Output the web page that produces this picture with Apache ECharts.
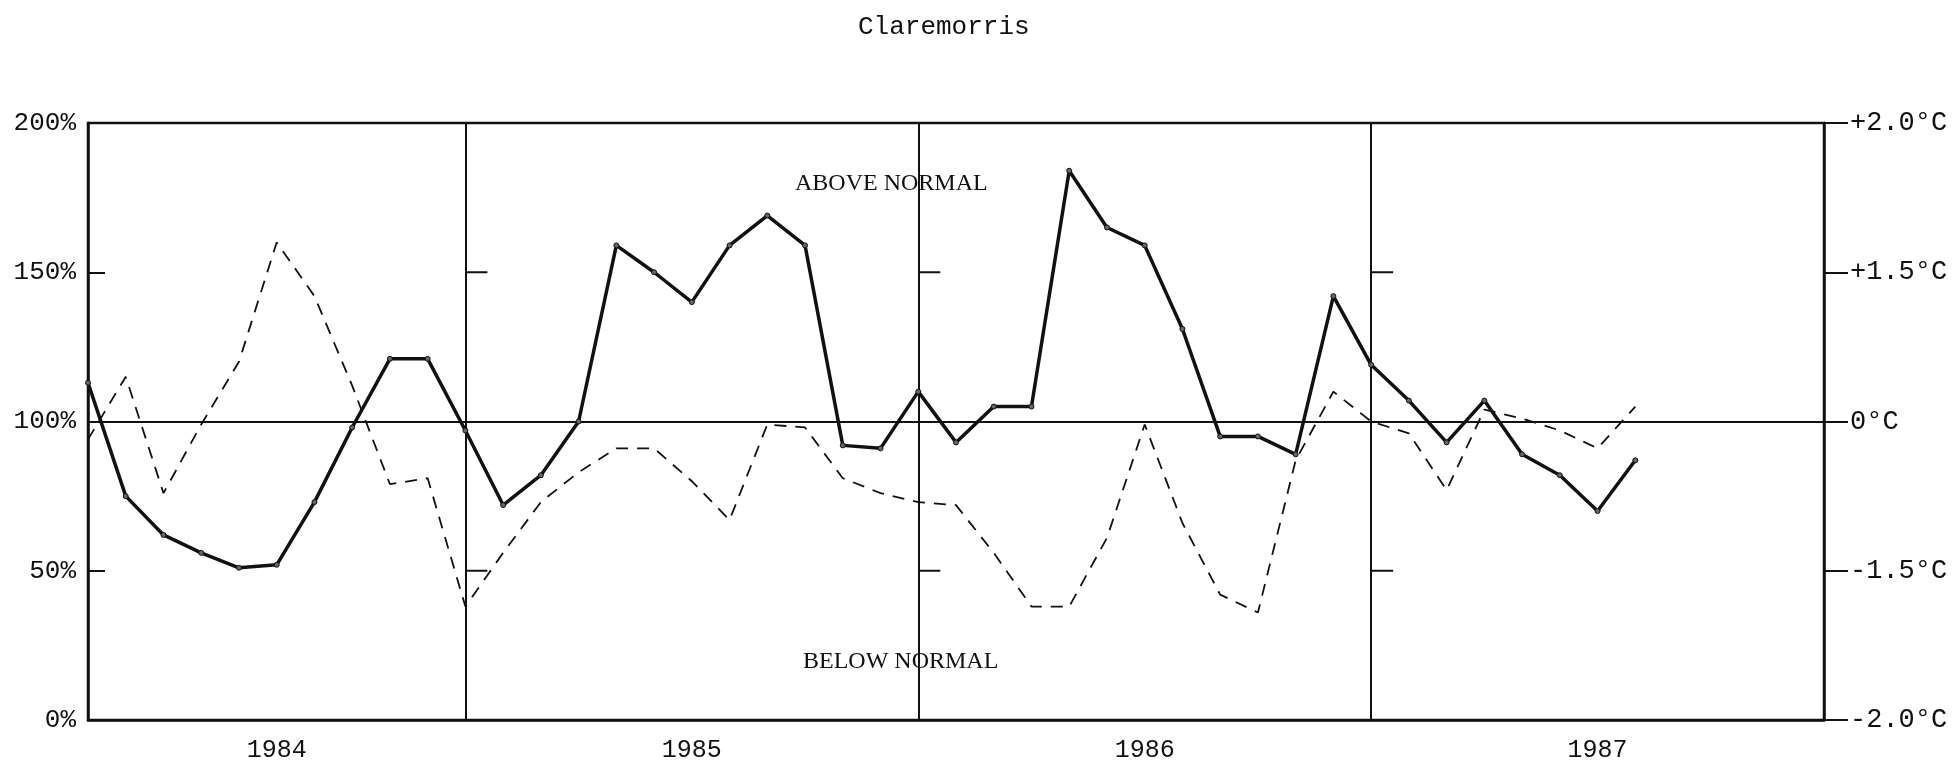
<!DOCTYPE html>
<html>
<head>
<meta charset="utf-8">
<title>Claremorris</title>
<script src="https://cdn.jsdelivr.net/npm/echarts@6.0.0/dist/echarts.min.js"></script>
<style>
  html, body { margin: 0; padding: 0; background: #fff; }
  #chart { width: 1955px; height: 763px; }
</style>
</head>
<body>
<div id="chart"></div>
<script>
// monthly points, March 1984 to January 1988
const months = [
  '1984-03', '1984-04', '1984-05', '1984-06', '1984-07', '1984-08', '1984-09', '1984-10', '1984-11', '1984-12',
  '1985-01', '1985-02', '1985-03', '1985-04', '1985-05', '1985-06', '1985-07', '1985-08', '1985-09', '1985-10', '1985-11', '1985-12',
  '1986-01', '1986-02', '1986-03', '1986-04', '1986-05', '1986-06', '1986-07', '1986-08', '1986-09', '1986-10', '1986-11', '1986-12',
  '1987-01', '1987-02', '1987-03', '1987-04', '1987-05', '1987-06', '1987-07', '1987-08', '1987-09', '1987-10', '1987-11', '1987-12',
  '1988-01'
];
const yearStarts = ['1985-01', '1986-01', '1987-01'];
const yearLabelAt = ['1984-08', '1985-07', '1986-07', '1987-07'];
const yearLabels = ['1984', '1985', '1986', '1987'];

const leftTicks = [0, 50, 100, 150, 200];
const leftLabels = ['0%', '50%', '100%', '150%', '200%'];
const rightLabels = ['-2.0°C', '-1.5°C', '0°C', '+1.5°C', '+2.0°C'];

// rainfall, % of normal (solid line)
const rainfall = [
  113, 75, 62, 56, 51, 52, 73, 98, 121, 121,
  97, 72, 82, 100, 159, 150, 140, 159, 169, 159, 92, 91,
  110, 93, 105, 105, 184, 165, 159, 131, 95, 95, 89, 142,
  119, 107, 93, 107, 89, 82, 70, 87
];
// temperature departure, on the right hand scale (dashed line)
const temperature = [
  94, 115, 76, 99, 120, 160, 142, 112, 79, 81,
  38, 56, 73, 83, 91, 91, 80, 67, 99, 98, 81, 76,
  73, 72, 56, 38, 38, 61, 99, 66, 42, 36, 87, 110,
  100, 96, 77, 104, 101, 97, 91, 105
];

const chart = echarts.init(document.getElementById('chart'));
const ink = '#111';
const mono = '"Liberation Mono", "DejaVu Sans Mono", monospace';

chart.setOption({
  animation: false,
  backgroundColor: '#fff',
  title: {
    text: 'Claremorris',
    left: 853,
    top: 9,
    textStyle: { fontFamily: mono, fontSize: 26, fontWeight: 'normal', color: ink }
  },
  grid: {
    left: 88, right: 131, top: 123, bottom: 43,
    show: true, borderColor: ink, borderWidth: 2.5
  },
  xAxis: {
    type: 'category',
    data: months,
    boundaryGap: false,
    axisLine: { lineStyle: { color: ink, width: 2.5 } },
    axisTick: { show: false },
    axisLabel: {
      interval: (i, v) => yearLabelAt.includes(v),
      formatter: v => yearLabels[yearLabelAt.indexOf(v)],
      fontFamily: mono, fontSize: 25, color: ink, margin: 18
    },
    splitLine: { show: false }
  },
  yAxis: [
    {
      type: 'value', min: 0, max: 200, interval: 50,
      axisLine: { show: true, lineStyle: { color: ink, width: 2.5 } },
      axisTick: { show: true, inside: true, length: 17, lineStyle: { color: ink, width: 2 } },
      axisLabel: {
        formatter: v => leftLabels[leftTicks.indexOf(v)],
        fontFamily: mono, fontSize: 26, color: ink, margin: 12
      },
      splitLine: { show: false }
    },
    {
      type: 'value', min: 0, max: 200, interval: 50, position: 'right',
      axisLine: { show: true, lineStyle: { color: ink, width: 2.5 } },
      axisTick: { show: true, inside: false, length: 24, lineStyle: { color: ink, width: 2 } },
      axisLabel: {
        formatter: v => rightLabels[leftTicks.indexOf(v)],
        fontFamily: mono, fontSize: 27, color: ink, margin: 26
      },
      splitLine: { show: false }
    }
  ],
  series: [
    {
      name: 'Rainfall',
      type: 'line',
      data: rainfall,
      yAxisIndex: 0,
      symbol: 'circle',
      symbolSize: 5,
      itemStyle: { color: '#666', borderColor: ink, borderWidth: 1 },
      lineStyle: { color: ink, width: 3.5 },
      z: 5,
      markLine: {
        silent: true,
        symbol: 'none',
        label: { show: false },
        lineStyle: { color: ink, type: 'solid', width: 2 },
        data: [{ yAxis: 100 }].concat(yearStarts.map(m => ({ xAxis: m })))
      }
    },
    {
      name: 'Temperature',
      type: 'line',
      data: temperature,
      yAxisIndex: 1,
      symbol: 'none',
      lineStyle: { color: ink, width: 1.8, type: [12, 9] },
      z: 4
    }
  ]
});

// short marks at 150% and 50% beside each year divider
const yearTicks = [];
yearStarts.forEach(m => {
  [150, 50].forEach(v => {
    const p = chart.convertToPixel({ gridIndex: 0 }, [months.indexOf(m), v]);
    yearTicks.push({
      type: 'line',
      shape: { x1: p[0], y1: p[1], x2: p[0] + 22, y2: p[1] },
      style: { stroke: ink, lineWidth: 2 }
    });
  });
});

chart.setOption({
  graphic: [
    {
      type: 'text', left: 795, top: 172,
      style: { text: 'ABOVE NORMAL', font: '24px "Liberation Serif", serif', fill: ink }
    },
    {
      type: 'text', left: 803, top: 650,
      style: { text: 'BELOW NORMAL', font: '24px "Liberation Serif", serif', fill: ink }
    }
  ].concat(yearTicks)
});
</script>
</body>
</html>
